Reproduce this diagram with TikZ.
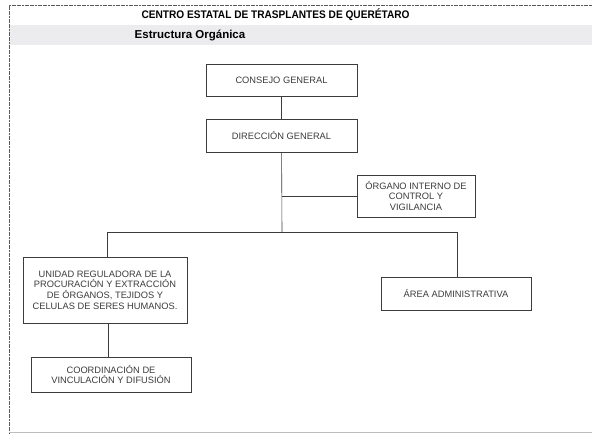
\documentclass[tikz,border=0pt]{standalone}
\usepackage{fontspec}
\setmainfont{Liberation Sans}
\definecolor{band}{RGB}{236,236,238}
\definecolor{frame}{RGB}{90,90,90}
\definecolor{ink}{RGB}{60,60,60}
\tikzset{
  box/.style={draw=ink,line width=0.6pt,align=center,inner sep=0pt,
    font=\fontsize{9.3}{10.7}\selectfont,text=ink},
  link/.style={draw=ink,line width=0.6pt}
}
\begin{document}
\begin{tikzpicture}[x=1pt,y=-1pt]
\useasboundingbox (0,0) rectangle (592,434);
\fill[white] (0,0) rectangle (592,434);

\fill[band] (9,25) rectangle (592,45);
\draw[frame,line width=1pt,dash pattern=on 2pt off 0.6pt] (9,434) -- (9,5) -- (592,5);
\draw[band!80!black,line width=0.4pt] (9,432) -- (592,432);
\node[font=\fontsize{11}{12}\selectfont\bfseries] (titulo) at (275.5,15) {\scalebox{0.92}[1]{CENTRO ESTATAL DE TRASPLANTES DE QUERÉTARO}};
\node[font=\fontsize{11.5}{12}\selectfont\bfseries] (subtitulo) at (190,36) {Estructura Orgánica};

\node[box,minimum width=151pt,minimum height=32pt] (consejo) at (281.5,80) {CONSEJO GENERAL};
\node[box,minimum width=151pt,minimum height=33pt] (direccion) at (281.5,135.5) {DIRECCIÓN GENERAL};
\node[box,minimum width=118pt,minimum height=42pt] (organo) at (416,196) {ÓRGANO INTERNO DE\\CONTROL Y\\VIGILANCIA};
\node[box,minimum width=164pt,minimum height=66pt] (unidad) at (105,290) {UNIDAD REGULADORA DE LA\\PROCURACIÓN Y EXTRACCIÓN\\DE ÓRGANOS, TEJIDOS Y\\CELULAS DE SERES HUMANOS.};
\node[box,minimum width=160pt,minimum height=35pt] (coordinacion) at (111,374.5) {COORDINACIÓN DE\\VINCULACIÓN Y DIFUSIÓN};
\node[box,minimum width=150pt,minimum height=33pt] (area) at (456,293.5) {ÁREA ADMINISTRATIVA};

\coordinate (ramal) at (282,232);
\draw[link] (consejo) -- (direccion);
\draw[link] (direccion) -- (ramal);
\draw[link] (direccion.south |- organo.west) -- (organo.west);
\draw[link] (ramal) -| (unidad.north -| 107,0);
\draw[link] (ramal) -| (area.north -| 457,0);
\draw[link] (unidad.south -| 108,0) -- (coordinacion.north -| 108,0);
\end{tikzpicture}
\end{document}
